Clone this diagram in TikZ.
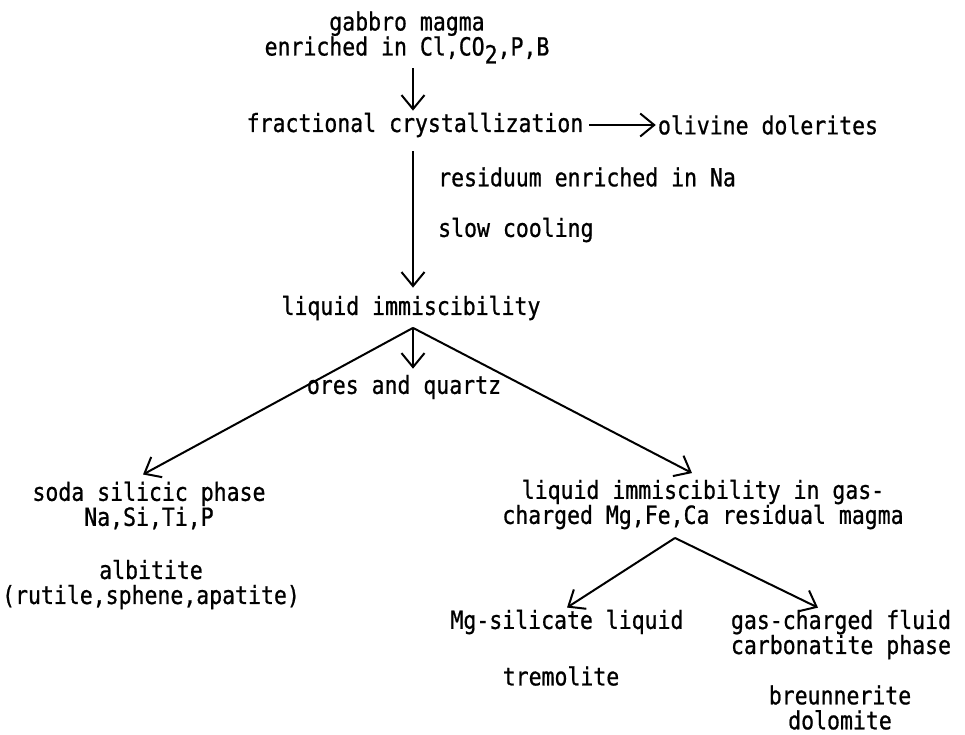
\documentclass[tikz,border=0pt]{standalone}
\usepackage{fontspec}
\usetikzlibrary{arrows.meta, calc}
\newfontfamily\typewriter[FakeStretch=0.86, FakeBold=0.8]{DejaVu Sans Mono}

\begin{document}
\begin{tikzpicture}[
      x=1pt, y=-1pt,
      every node/.style={font=\typewriter\fontsize{25}{25}\selectfont, inner sep=2pt},
      stage/.style={align=center},
      note/.style={anchor=west},
      flow/.style={
        -{Straight Barb[length=14pt,width=23pt]},
        line width=2pt,
        draw=black
      }
    ]
    \useasboundingbox (0,0) rectangle (965,734);

    % Main column
    \coordinate (axis) at (413,0);
    \node[stage] (gabbro) at (407,37.5)
      {gabbro magma\\enriched in Cl,CO\raisebox{-8pt}{2},P,B};
    \node (fract) at (415,125) {fractional crystallization};
    \node (olivine) at (768,125) {olivine dolerites};
    \node[note] (resid) at (436,177) {residuum enriched in Na};
    \node[note] (slow) at (436,230) {slow cooling};
    \node (liqimm) at (411,308) {liquid immiscibility};
    \node (ores) at (404,387) {ores and quartz};

    % Soda branch
    \node[stage] (soda) at (149,505.5) {soda silicic phase\\Na,Si,Ti,P};
    \node[stage] (albitite) at (151,584.5) {albitite\\(rutile,sphene,apatite)};

    % Residual magma branch
    \node[stage] (gasimm) at (703,504.5)
      {liquid immiscibility in gas-\\charged Mg,Fe,Ca residual magma};
    \node (mgsil) at (567,622) {Mg-silicate liquid};
    \node (trem) at (561,676) {tremolite};
    \node[stage] (gasfl) at (841,634.5) {gas-charged fluid\\carbonatite phase};
    \node[stage] (breun) at (840,707.5) {breunnerite\\dolomite};

    % Forks
    \coordinate (fork) at ($(liqimm.south -| axis)+(0,5.5)$);
    \coordinate (fork2) at ($(gasimm.south)+(-28,6.5)$);

    % Arrows
    \draw[flow] ($(gabbro.south -| axis)+(0,2.5)$) -- (fract.north -| axis);
    \draw[flow, shorten <=4pt] (fract) -- (olivine);
    \draw[flow] ($(fract.south -| axis)+(0,12)$) -- ($(liqimm.north -| axis)+(0,-6)$);
    \draw[flow] (fork) -- ($(ores.north -| axis)+(0,-4)$);
    \draw[flow] (fork) -- ($(soda.north)+(-6,-5)$);
    \draw[flow] (fork) -- ($(gasimm.north)+(-11,-4.5)$);
    \draw[flow] (fork2) -- (mgsil.north);
    \draw[flow] (fork2) -- ($(gasfl.north)+(-23,0)$);

\end{tikzpicture}
\end{document}
